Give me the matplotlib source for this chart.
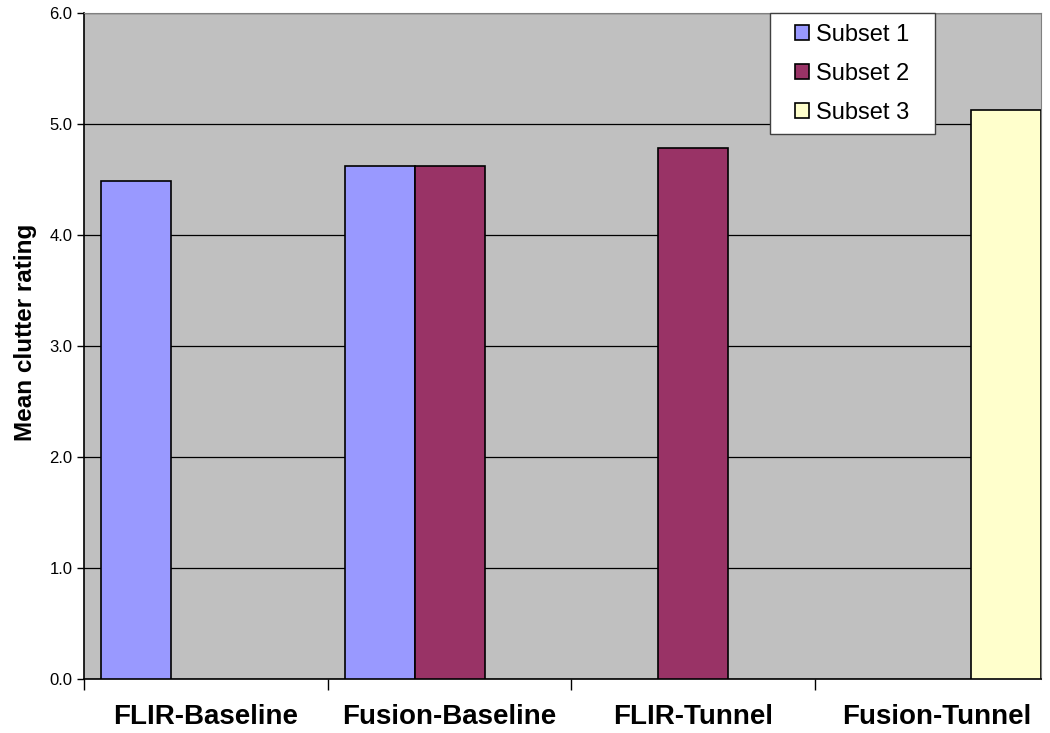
import numpy as np
import matplotlib
matplotlib.use("Agg")
import matplotlib.pyplot as plt

plt.rcParams['font.family'] = ['Liberation Sans', 'DejaVu Sans']

# Data
categories = ['FLIR-Baseline', 'Fusion-Baseline', 'FLIR-Tunnel', 'Fusion-Tunnel']
subset1 = [4.49, 4.62, np.nan, np.nan]
subset2 = [np.nan, 4.62, 4.78, np.nan]
subset3 = [np.nan, np.nan, np.nan, 5.13]
series_names = ['Subset 1', 'Subset 2', 'Subset 3']
colors = ['#9999FF', '#993366', '#FFFFCC']
yticks = [0.0, 1.0, 2.0, 3.0, 4.0, 5.0, 6.0]

fig = plt.figure(figsize=(10.5, 7.33), dpi=100)
ax = fig.add_axes([0.0804, 0.0737, 0.9110, 0.9086])
ax.set_facecolor('#C0C0C0')

x = np.arange(len(categories))
w = 0.2875
for k, (vals, name, c) in enumerate(zip([subset1, subset2, subset3], series_names, colors)):
    ax.bar(x + (k - 1) * w, vals, width=w, color=c, edgecolor='black',
           linewidth=1.2, label=name, zorder=3)

# axes / grid
ax.set_ylim(0, 6)
ax.set_xlim(-0.5, 3.43)
ax.set_yticks(yticks)
ax.set_yticklabels([f'{v:.1f}' for v in yticks], fontsize=12)
ax.yaxis.grid(True, color='black', linewidth=0.9, zorder=1)
ax.set_axisbelow(True)
ax.tick_params(axis='y', length=5, width=1, direction='out')

ax.set_xticks(x)
ax.set_xticklabels(categories, fontsize=20, fontweight='bold')
ax.set_xticks(np.arange(len(categories)) - 0.5, minor=True)
ax.tick_params(axis='x', which='major', length=0, pad=18)
ax.tick_params(axis='x', which='minor', length=8, width=1, direction='out')

ax.set_ylabel('Mean clutter rating', fontsize=17.5, fontweight='bold')
ax.yaxis.set_label_coords(-0.05, 0.52)

for side in ['top', 'right']:
    ax.spines[side].set_color('#808080')
for side in ['left', 'bottom']:
    ax.spines[side].set_color('black')
    ax.spines[side].set_linewidth(1.2)

leg = ax.legend(loc='upper left', bbox_to_anchor=(0.7318, 1.0), fontsize=17,
                frameon=True, fancybox=False, edgecolor='#404040', framealpha=1,
                facecolor='white',
                handlelength=0.6, handleheight=0.6, handletextpad=0.3,
                labelspacing=0.72, borderpad=0.45, borderaxespad=0)
frame = leg.get_frame()
frame.set_linewidth(1.0)
# extra padding left/right only
frame.set_boxstyle('square', pad=0.61)
frame.set_mutation_aspect(1e-4)
leg.set_zorder(5)

fig.savefig('out.png', dpi=100, facecolor='white')
